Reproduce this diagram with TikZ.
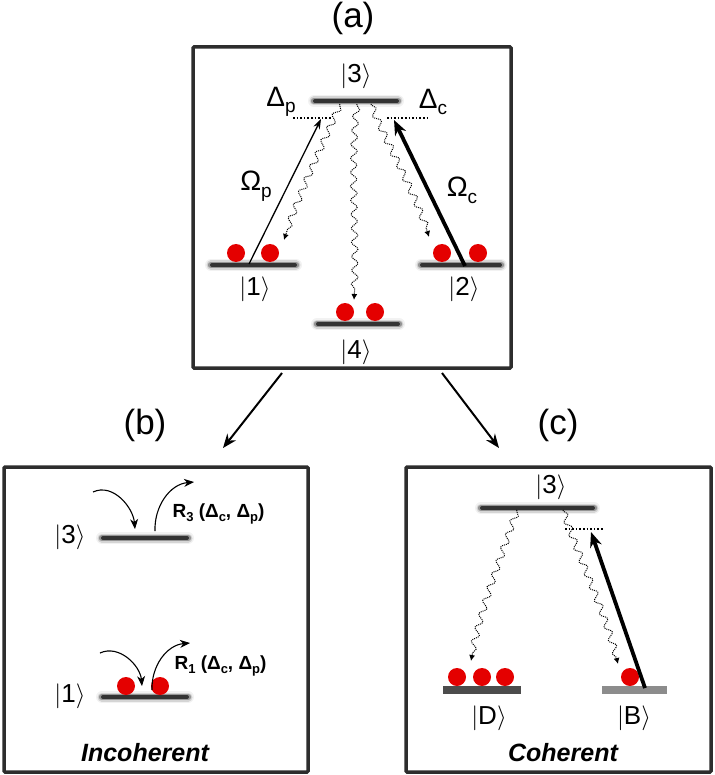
\documentclass[tikz,border=0pt]{standalone}
\usepackage{fontspec}
\setmainfont{Liberation Sans}
\usetikzlibrary{arrows.meta,decorations.pathmorphing}
\newcommand{\myket}[1]{$|\mbox{#1}\rangle$}
\newcommand{\lo}[1]{\raisebox{-0.45ex}{\fontsize{19}{19}\selectfont #1}}
\newcommand{\blo}[1]{\raisebox{-0.35ex}{\fontsize{13}{13}\selectfont\bfseries #1}}
\definecolor{dotred}{RGB}{228,0,0}
\definecolor{frame}{RGB}{45,45,45}
\tikzset{
  panel/.style={draw=frame,line width=3.5pt,rounded corners=1pt},
  title/.style={font=\fontsize{35}{35}\selectfont},
  ketlabel/.style={font=\fontsize{26}{26}\selectfont},
  rabi/.style={font=\fontsize{28}{28}\selectfont},
  atom/.style={fill=dotred,draw=none},
  detun/.style={dotted,line width=1.6pt},
  wavy/.style={densely dotted,line width=1pt,decorate,decoration={snake,amplitude=3.2pt,segment length=14pt,post length=6pt,pre length=1pt},-{Latex[length=6pt,width=6pt]}},
  probe/.style={line width=1.3pt,-{Stealth[length=10pt,width=7pt]}},
  coupl/.style={line width=3.8pt,-{Stealth[length=15pt,width=12pt]}},
  flow/.style={line width=1.1pt,-{Stealth[length=10pt,width=8pt]}},
  link/.style={line width=2pt,-{Stealth[length=14pt,width=11pt]}},
  rate/.style={font=\fontsize{19}{19}\selectfont\bfseries,anchor=west},
  kind/.style={font=\fontsize{25}{25}\selectfont\bfseries\itshape}
}
\newcommand{\level}[3]{%
  \draw[line width=12pt,black,opacity=0.05,line cap=round] (#1+4,#3) -- (#2-4,#3);
  \draw[line width=9pt,black,opacity=0.12,line cap=round] (#1+4,#3) -- (#2-4,#3);
  \draw[line width=6.5pt,black,opacity=0.3,line cap=round] (#1+4,#3) -- (#2-4,#3);
  \draw[line width=4pt,black!80,line cap=round] (#1+5,#3) -- (#2-5,#3);}
\begin{document}
\begin{tikzpicture}[x=1pt,y=-1pt]
\useasboundingbox (0,0) rectangle (714,775);
% ---------- panel (a)
\node[title] (ta) at (353,18) {(a)};
\draw[panel] (193,47) rectangle (511,368);
\level{310}{402}{101}
\level{207}{300}{265}
\level{417}{505}{265}
\level{313}{403}{324}
\node[ketlabel] (k3a) at (356,76) {\myket{3}};
\node[ketlabel] (k1a) at (255,289) {\myket{1}};
\node[ketlabel] (k2a) at (464,289) {\myket{2}};
\node[ketlabel] (k4a) at (356,352) {\myket{4}};
\draw[detun] (293,118) -- (332,118);
\draw[detun] (387,118) -- (427,118);
\node[rabi] (dp) at (281,102) {Δ\lo{p}};
\node[rabi] (dc) at (433,102) {Δ\lo{c}};
\foreach \n/\x/\y in {a1/236/253,a2/270/253,a3/442/253,a4/478/253,a5/345/312,a6/375/312}
  \fill[atom] (\x,\y) circle (9) coordinate (\n);
\coordinate (p1s) at (249,264);
\coordinate (p1e) at (321,119);
\coordinate (c2s) at (465,266);
\coordinate (c2e) at (394,120);
\draw[probe] (p1s) -- (p1e);
\draw[coupl] (c2s) -- (c2e);
\node[rabi] (op) at (256,186) {Ω\lo{p}};
\node[rabi] (oc) at (462,190) {Ω\lo{c}};
\coordinate (w1s) at (340,104);
\coordinate (w1e) at (284,240);
\coordinate (w2s) at (357,104);
\coordinate (w2e) at (354,300);
\coordinate (w3s) at (371,104);
\coordinate (w3e) at (429,237);
\draw[wavy] (w1s) .. controls (325,140) and (300,190) .. (w1e);
\draw[wavy] (w2s) .. controls (350,170) and (358,240) .. (w2e);
\draw[wavy] (w3s) .. controls (385,140) and (415,190) .. (w3e);
% links
\coordinate (lb) at (282,373);
\coordinate (lbe) at (223,448);
\coordinate (lc) at (442,373);
\coordinate (lce) at (499,448);
\draw[link] (lb) -- (lbe);
\draw[link] (lc) -- (lce);
\node[title] (tb) at (145,425) {(b)};
\node[title] (tc) at (558,425) {(c)};
% ---------- panel (b)
\draw[panel] (4,467) rectangle (308,772);
\level{98}{192}{538}
\level{98}{192}{697}
\node[ketlabel] (k3b) at (70,537) {\myket{3}};
\node[ketlabel] (k1b) at (70,696) {\myket{1}};
\fill[atom] (126,686) circle (9) coordinate (b1);
\fill[atom] (160,686) circle (9) coordinate (b2);
\coordinate (f1s) at (93,492);
\coordinate (f1e) at (135,529);
\coordinate (f2s) at (155,531);
\coordinate (f2e) at (194,482);
\coordinate (f3s) at (100,653);
\coordinate (f3e) at (142,686);
\coordinate (f4s) at (152,690);
\coordinate (f4e) at (190,643);
\draw[flow] (f1s) to[out=25,in=95] (f1e);
\draw[flow] (f2s) to[out=92,in=185] (f2e);
\draw[flow] (f3s) to[out=25,in=95] (f3e);
\draw[flow] (f4s) to[out=92,in=185] (f4e);
\node[rate] (r3) at (169,514) {R\blo{3} (Δ\blo{c}, Δ\blo{p})};
\node[rate] (r1) at (171,666) {R\blo{1} (Δ\blo{c}, Δ\blo{p})};
\node[kind] (inc) at (145,753) {Incoherent};
% ---------- panel (c)
\draw[panel] (406,467) rectangle (711,772);
\level{477}{598}{508}
\node[ketlabel] (k3c) at (551,487) {\myket{3}};
\draw[detun] (565,529) -- (604,529);
\fill[black!70] (443,686) rectangle (521,694);
\fill[black!45] (602,686) rectangle (667,694);
\node[ketlabel] (kd) at (489,718) {\myket{D}};
\node[ketlabel] (kb) at (634,718) {\myket{B}};
\foreach \n/\x in {c1/457,c2/482,c3/505,c4/630}
  \fill[atom] (\x,677) circle (9) coordinate (\n);
\coordinate (cbs) at (645,688);
\coordinate (cbe) at (591,532);
\draw[coupl] (cbs) -- (cbe);
\coordinate (v1s) at (517,510);
\coordinate (v1e) at (471,661);
\coordinate (v2s) at (563,510);
\coordinate (v2e) at (618,664);
\draw[wavy] (v1s) .. controls (500,560) and (480,610) .. (v1e);
\draw[wavy] (v2s) .. controls (580,560) and (605,610) .. (v2e);
\node[kind] (coh) at (563,753) {Coherent};
\end{tikzpicture}
\end{document}
